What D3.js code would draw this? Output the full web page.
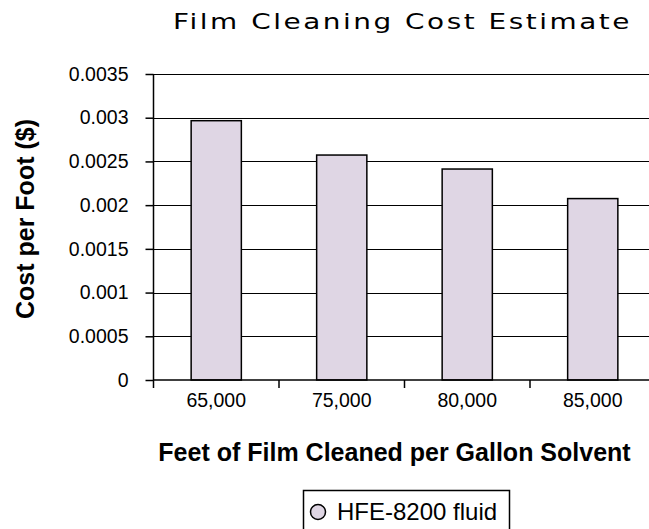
<!DOCTYPE html>
<html>
<head>
<meta charset="utf-8">
<script src="https://cdn.jsdelivr.net/npm/d3@7"></script>
<style>
  body { margin: 0; background: #fff; }
  svg { display: block; }
</style>
</head>
<body>
<svg id="chart" width="649" height="529"></svg>
<script>
// data
const categories = ["65,000", "75,000", "80,000", "85,000"];
const costPerFoot = [0.002966, 0.002573, 0.002413, 0.002075];
const yTicks = [0, 0.0005, 0.001, 0.0015, 0.002, 0.0025, 0.003, 0.0035];
const yTickLabels = ["0", "0.0005", "0.001", "0.0015", "0.002", "0.0025", "0.003", "0.0035"];
const seriesName = "HFE-8200 fluid";

const svg = d3.select("#chart");
const W = 649;

// plot area
const plotLeft = 153.5, plotTop = 74, plotBottom = 380, step = 125.5;
const BAR_FILL = "#dfd6e4";
const FONT = "'Liberation Sans', Arial, sans-serif";

let xScale = d3.scaleBand()
    .domain(categories)
    .range([plotLeft, plotLeft + step * categories.length])
    .paddingInner(0.6)
    .paddingOuter(0.3);

let yScale = d3.scaleLinear()
    .domain([0, 0.0035])
    .range([plotBottom, plotTop]);

// gridlines
svg.append("g")
  .selectAll("line")
  .data(yTicks.slice(1))
  .join("line")
    .attr("x1", plotLeft)
    .attr("x2", W)
    .attr("y1", d => Math.round(yScale(d)) + 0.5)
    .attr("y2", d => Math.round(yScale(d)) + 0.5)
    .attr("stroke", "#000")
    .attr("stroke-width", 1);

// bars
svg.append("g")
  .selectAll("rect")
  .data(costPerFoot)
  .join("rect")
    .attr("x", (d, i) => xScale(categories[i]))
    .attr("y", d => yScale(d))
    .attr("width", xScale.bandwidth())
    .attr("height", d => plotBottom - yScale(d))
    .attr("fill", BAR_FILL)
    .attr("stroke", "#000")
    .attr("stroke-width", 1.5);

// y axis
let yAxis = d3.axisLeft(yScale)
    .tickValues(yTicks)
    .tickFormat((d, i) => yTickLabels[i])
    .tickSize(8)
    .tickPadding(17);
let gy = svg.append("g")
    .attr("transform", "translate(" + plotLeft + ",0)")
    .call(yAxis);
gy.select(".domain").attr("stroke", "#000").attr("stroke-width", 1.5).attr("d", "M0," + plotTop + "V" + plotBottom);
gy.selectAll("line").attr("stroke-width", 1.5);
gy.selectAll("text")
    .style("font-family", FONT)
    .style("font-size", "19.5px")
    .attr("fill", "#000");

// x axis, ticks on band boundaries
let xAxisScale = d3.scaleLinear().domain([0, categories.length]).range([plotLeft, plotLeft + step * categories.length]);
let gx = svg.append("g")
    .attr("transform", "translate(0," + plotBottom + ")");
gx.append("line")
    .attr("x1", plotLeft).attr("x2", W)
    .attr("y1", 0).attr("y2", 0)
    .attr("stroke", "#000").attr("stroke-width", 1.5);
gx.selectAll(".tk")
  .data(d3.range(categories.length + 1))
  .join("line")
    .attr("class", "tk")
    .attr("x1", d => xAxisScale(d)).attr("x2", d => xAxisScale(d))
    .attr("y1", 0).attr("y2", 8)
    .attr("stroke", "#000").attr("stroke-width", 1.5);
gx.selectAll(".lbl")
  .data(categories)
  .join("text")
    .attr("class", "lbl")
    .attr("x", d => xScale(d) + xScale.bandwidth() / 2)
    .attr("y", 27)
    .attr("text-anchor", "middle")
    .style("font-family", FONT)
    .style("font-size", "19.5px")
    .text(d => d);

// title (wide, stretched lettering)
svg.append("text")
    .attr("x", 173)
    .attr("y", 29)
    .attr("textLength", 459)
    .attr("lengthAdjust", "spacingAndGlyphs")
    .style("font-family", "'DejaVu Sans', Verdana, sans-serif")
    .style("font-size", "22px")
    .style("letter-spacing", "2px")
    .text("Film Cleaning Cost Estimate");

// axis titles
svg.append("text")
    .attr("x", 394.5)
    .attr("y", 461)
    .attr("text-anchor", "middle")
    .style("font-family", FONT)
    .style("font-weight", "bold")
    .style("font-size", "25px")
    .text("Feet of Film Cleaned per Gallon Solvent");

svg.append("text")
    .attr("transform", "translate(34,219) rotate(-90)")
    .attr("text-anchor", "middle")
    .style("font-family", FONT)
    .style("font-weight", "bold")
    .style("font-size", "25px")
    .text("Cost per Foot ($)");

// legend
let legend = svg.append("g");
legend.append("rect")
    .attr("x", 303.5).attr("y", 490.5)
    .attr("width", 206).attr("height", 45)
    .attr("fill", "#fff")
    .attr("stroke", "#000").attr("stroke-width", 1.5);
legend.append("circle")
    .attr("cx", 318).attr("cy", 512)
    .attr("r", 7.5)
    .attr("fill", BAR_FILL)
    .attr("stroke", "#000").attr("stroke-width", 1.5);
legend.append("text")
    .attr("x", 337).attr("y", 520)
    .style("font-family", FONT)
    .style("font-size", "24px")
    .text(seriesName);
</script>
</body>
</html>
